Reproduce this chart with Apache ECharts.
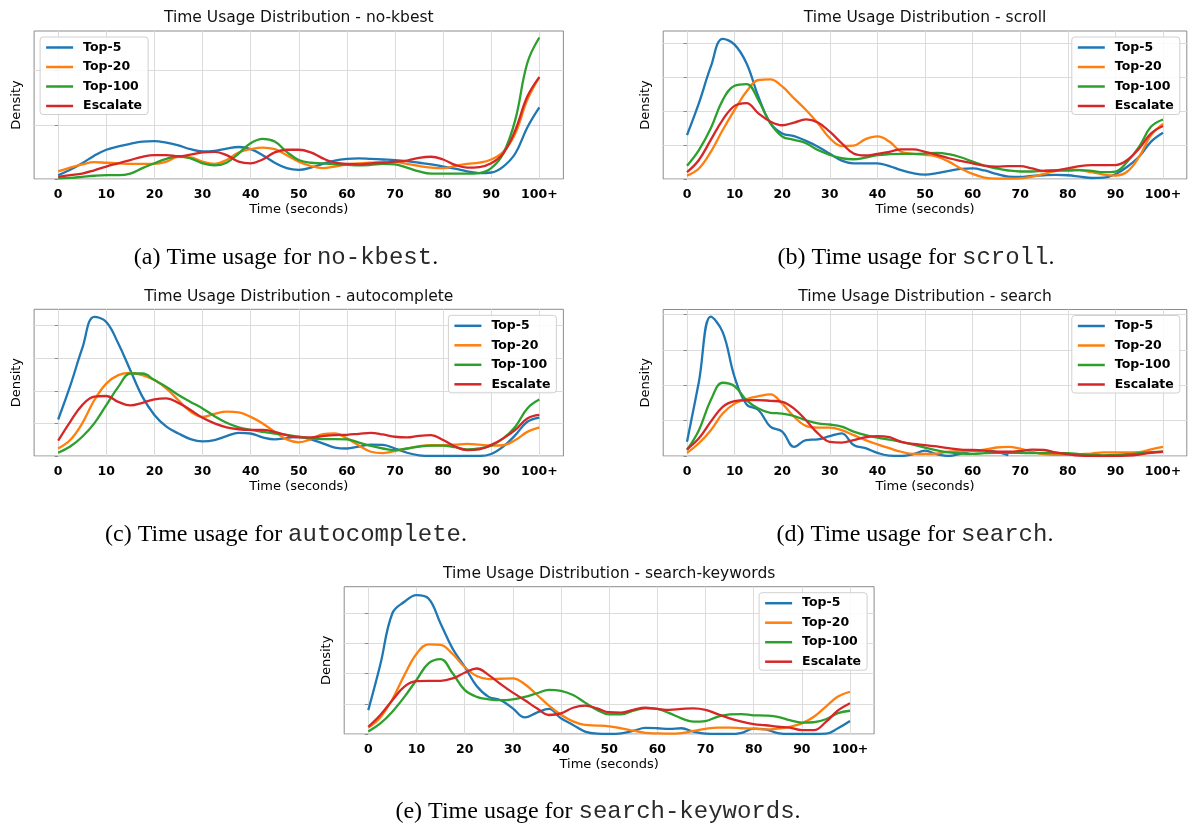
<!DOCTYPE html>
<html><head><meta charset="utf-8">
<script src="https://cdn.jsdelivr.net/npm/echarts@6/dist/echarts.min.js"></script>
<style>html,body{margin:0;padding:0;background:#fff}#c{width:1195px;height:827px}</style>
</head><body><div id="c"></div>
<script>
// ---------- DATA ----------
const TIME_X = [0,2.5,5,7.5,10,12.5,15,17.5,20,22.5,25,27.5,30,32.5,35,37.5,40,42.5,45,47.5,50,52.5,55,57.5,60,62.5,65,67.5,70,72.5,75,77.5,80,82.5,85,87.5,90,92.5,95,97.5,100];
const xTickValues = [0,10,20,30,40,50,60,70,80,90,100];
const xTickLabels = ['0','10','20','30','40','50','60','70','80','90','100+'];
const methods = ['Top-5','Top-20','Top-100','Escalate'];
const panelNames = ['no-kbest','scroll','autocomplete','search','search-keywords'];
const captionLetters = ['(a)','(b)','(c)','(d)','(e)'];

// (a) no-kbest
const noKbestTop5 = [0.07,0.17,0.29,0.43,0.54,0.60,0.65,0.69,0.70,0.67,0.62,0.55,0.51,0.52,0.56,0.59,0.55,0.44,0.30,0.20,0.17,0.21,0.28,0.34,0.37,0.38,0.37,0.36,0.35,0.33,0.30,0.27,0.23,0.19,0.14,0.11,0.12,0.23,0.47,0.95,1.32];
const noKbestTop20 = [0.14,0.21,0.27,0.31,0.30,0.29,0.28,0.28,0.28,0.32,0.41,0.40,0.32,0.28,0.35,0.49,0.55,0.58,0.55,0.44,0.32,0.24,0.20,0.23,0.27,0.29,0.30,0.31,0.31,0.28,0.24,0.21,0.20,0.24,0.28,0.30,0.36,0.50,0.84,1.46,1.88];
const noKbestTop100 = [0.01,0.02,0.04,0.06,0.07,0.07,0.10,0.20,0.29,0.37,0.42,0.38,0.29,0.25,0.30,0.47,0.66,0.74,0.69,0.50,0.35,0.30,0.29,0.27,0.26,0.25,0.26,0.28,0.27,0.21,0.14,0.10,0.10,0.10,0.10,0.11,0.20,0.47,1.09,2.14,2.61];
const noKbestEscalate = [0.04,0.07,0.10,0.16,0.23,0.29,0.35,0.41,0.44,0.44,0.42,0.45,0.49,0.50,0.44,0.32,0.29,0.36,0.49,0.54,0.54,0.49,0.38,0.30,0.28,0.27,0.29,0.30,0.32,0.34,0.39,0.41,0.36,0.26,0.21,0.22,0.29,0.47,0.90,1.52,1.88];

// (b) scroll
const scrollTop5 = [1.29,2.23,3.30,4.12,3.95,3.40,2.42,1.64,1.34,1.26,1.12,0.95,0.74,0.54,0.46,0.46,0.46,0.38,0.26,0.17,0.13,0.17,0.24,0.30,0.31,0.25,0.15,0.07,0.06,0.09,0.11,0.12,0.11,0.07,0.03,0.04,0.14,0.36,0.66,1.10,1.36];
const scrollTop20 = [0.10,0.31,0.80,1.44,2.03,2.57,2.91,2.93,2.72,2.37,2.03,1.64,1.20,0.97,0.98,1.17,1.25,1.10,0.80,0.74,0.71,0.66,0.51,0.31,0.15,0.04,0.01,0.01,0.02,0.07,0.15,0.24,0.28,0.26,0.20,0.13,0.10,0.22,0.66,1.29,1.62];
const scrollTop100 = [0.39,0.85,1.49,2.32,2.74,2.79,2.32,1.64,1.25,1.15,1.05,0.85,0.71,0.61,0.58,0.63,0.70,0.73,0.74,0.74,0.75,0.77,0.73,0.64,0.51,0.39,0.31,0.25,0.22,0.22,0.24,0.25,0.25,0.26,0.24,0.20,0.22,0.51,0.95,1.54,1.75];
const scrollEscalate = [0.20,0.56,1.15,1.74,2.15,2.23,1.93,1.69,1.58,1.66,1.75,1.66,1.39,1.05,0.75,0.69,0.74,0.80,0.87,0.87,0.80,0.71,0.61,0.53,0.46,0.39,0.36,0.38,0.38,0.31,0.24,0.25,0.31,0.38,0.41,0.41,0.41,0.56,0.90,1.34,1.56];

// (c) autocomplete
const autoTop5 = [1.12,2.15,3.30,4.27,4.11,3.45,2.63,1.82,1.26,0.90,0.69,0.52,0.45,0.49,0.61,0.71,0.69,0.57,0.51,0.55,0.59,0.51,0.39,0.26,0.23,0.29,0.35,0.34,0.23,0.10,0.02,0,0,0,0,0,0.06,0.29,0.64,1.05,1.18];
const autoTop20 = [0.23,0.49,1.00,1.71,2.22,2.48,2.55,2.48,2.33,2.07,1.71,1.36,1.20,1.29,1.36,1.34,1.20,1.00,0.74,0.51,0.42,0.51,0.67,0.69,0.54,0.32,0.13,0.09,0.15,0.23,0.30,0.33,0.33,0.35,0.37,0.35,0.32,0.33,0.49,0.74,0.88];
const autoTop100 = [0.10,0.29,0.59,1.00,1.56,2.12,2.53,2.53,2.33,2.12,1.87,1.66,1.46,1.22,1.02,0.88,0.80,0.74,0.69,0.65,0.59,0.54,0.52,0.52,0.51,0.41,0.31,0.23,0.18,0.23,0.29,0.32,0.32,0.27,0.20,0.23,0.32,0.54,0.90,1.46,1.73];
const autoEscalate = [0.47,1.05,1.56,1.82,1.84,1.66,1.55,1.63,1.74,1.77,1.63,1.41,1.17,1.00,0.88,0.82,0.80,0.80,0.74,0.64,0.57,0.57,0.61,0.64,0.65,0.68,0.71,0.66,0.59,0.57,0.62,0.64,0.49,0.29,0.18,0.20,0.34,0.54,0.80,1.15,1.26];

// (d) search
const searchTop5 = [0.40,2.10,3.94,3.50,2.23,1.46,1.30,0.83,0.69,0.26,0.45,0.47,0.56,0.64,0.31,0.22,0.09,0.01,0,0.05,0.15,0.05,0,0.07,0.15,0.16,0.12,0.02,null,null,null,null,null,null,null,null,null,null,null,null,null];
const searchTop20 = [0.09,0.36,0.73,1.20,1.48,1.61,1.69,1.74,1.48,1.11,0.85,0.80,0.80,0.73,0.59,0.45,0.33,0.22,0.12,0.06,0.06,0.07,0.12,0.13,0.15,0.18,0.24,0.26,0.21,0.12,0.05,0.03,0.03,0.05,0.07,0.10,0.10,0.10,0.11,0.19,0.26];
const searchTop100 = [0.17,0.73,1.58,2.07,1.97,1.58,1.34,1.22,1.20,1.13,1.01,0.92,0.89,0.83,0.69,0.59,0.52,0.46,0.40,0.32,0.24,0.16,0.10,0.07,0.06,0.08,0.09,0.09,0.09,0.08,0.08,0.08,0.08,0.05,0.03,0.02,0.03,0.05,0.08,0.11,0.12];
const searchEscalate = [0.19,0.50,0.97,1.39,1.55,1.58,1.58,1.56,1.53,1.34,1.01,0.64,0.40,0.38,0.45,0.53,0.56,0.53,0.40,0.34,0.31,0.27,0.22,0.18,0.17,0.15,0.12,0.12,0.14,0.18,0.17,0.10,0.05,0.01,0,0,0,0.01,0.04,0.09,0.12];

// (e) search-keywords
const keywordsTop5 = [0.79,2.30,4.00,4.38,4.60,4.49,3.66,2.83,2.23,1.59,1.23,1.12,0.85,0.55,0.71,0.83,0.52,0.30,0.08,0.01,0,0.02,0.10,0.20,0.19,0.17,0.19,0.08,0.01,0,0,0.04,0.18,0.15,0.03,0,0,0,0.01,0.19,0.43];
const keywordsTop20 = [0.21,0.55,1.15,1.95,2.65,2.97,2.95,2.65,2.22,1.92,1.82,1.83,1.84,1.65,1.30,0.94,0.64,0.42,0.30,0.28,0.25,0.19,0.11,0.04,0.02,0.01,0.03,0.10,0.17,0.21,0.21,0.19,0.18,0.15,0.18,0.24,0.35,0.57,0.91,1.24,1.40];
const keywordsTop100 = [0.08,0.35,0.74,1.23,1.79,2.34,2.48,2.01,1.46,1.23,1.15,1.12,1.15,1.23,1.35,1.46,1.43,1.29,1.04,0.80,0.65,0.65,0.77,0.86,0.83,0.69,0.52,0.41,0.43,0.57,0.65,0.66,0.62,0.61,0.57,0.46,0.38,0.39,0.49,0.69,0.77];
const keywordsEscalate = [0.24,0.63,1.12,1.57,1.75,1.76,1.76,1.84,2.03,2.17,1.95,1.65,1.37,1.12,0.85,0.63,0.68,0.87,0.94,0.85,0.72,0.71,0.80,0.87,0.83,0.80,0.83,0.85,0.80,0.66,0.52,0.41,0.33,0.29,0.24,0.21,0.13,0.13,0.40,0.78,1.02];

const panelSeries = [
  [noKbestTop5, noKbestTop20, noKbestTop100, noKbestEscalate],
  [scrollTop5, scrollTop20, scrollTop100, scrollEscalate],
  [autoTop5, autoTop20, autoTop100, autoEscalate],
  [searchTop5, searchTop20, searchTop100, searchEscalate],
  [keywordsTop5, keywordsTop20, keywordsTop100, keywordsEscalate]
];
const yMaxes = [2.73, 4.35, 4.50, 4.14, 4.88];
const yTickValues = [[0,1,2],[0,1,2,3,4],[0,1,2,3,4],[0,1,2,3,4],[0,1,2,3,4]];

// ---------- STYLE / LAYOUT ----------
const colors = ['#1f77b4','#ff7f0e','#2ca02c','#d62728'];
const W = 1195;
const grids = [
  {left:34.1, top:31, width:529.3, height:148},
  {left:663.2, top:31, width:523.6, height:148},
  {left:34.1, top:309.3, width:529.3, height:146.7},
  {left:663.2, top:309.5, width:523.6, height:146.5},
  {left:344.2, top:586.7, width:529.9, height:147.3}
];
const legendPos = ['left','right','right','right','right'];
const captionPos = [[286,244.5],[916,244.5],[286,521.5],[915,521.5],[598,798]];
const SANS = 'DejaVu Sans';
const frameColor = '#8c8c8c';
const gridColor = '#dcdcdc';

const option = {
  animation: false,
  backgroundColor: '#fff',
  title: [], grid: [], xAxis: [], yAxis: [], legend: [], series: []
};

grids.forEach((g, i) => {
  option.grid.push(Object.assign({show:true, borderColor:frameColor, borderWidth:1, backgroundColor:'transparent', containLabel:false, outerBoundsMode:'none'}, g));
  option.title.push({
    text: 'Time Usage Distribution - ' + panelNames[i],
    left: g.left + g.width / 2, top: g.top - 20.75, textAlign: 'center', padding: 0,
    textStyle: {fontFamily: SANS, fontSize: 15.5, fontWeight: 'normal', color: '#111'}
  });
  option.title.push({
    text: '{s|' + captionLetters[i] + ' Time usage for }{m|' + panelNames[i] + '}{s|.}',
    left: captionPos[i][0], top: captionPos[i][1], textAlign: 'center', padding: 0,
    textStyle: {fontWeight: 'normal', fontFamily: 'Liberation Serif', fontSize: 24, color: '#000', rich: {
      s: {fontFamily: 'Liberation Serif', fontSize: 24, fontWeight: 'normal', color: '#000', lineHeight: 27},
      m: {fontFamily: 'Liberation Mono', fontSize: 24, fontWeight: 'normal', color: '#2a2a2a', lineHeight: 27}
    }}
  });
  option.xAxis.push({
    type: 'value', gridIndex: i, min: -5, max: 105,
    axisLine: {show: false},
    axisTick: {show: false, customValues: xTickValues},
    axisLabel: {customValues: xTickValues, margin: 9, fontFamily: SANS, fontWeight: 'bold', fontSize: 12.5, color: '#000',
      formatter: v => xTickLabels[xTickValues.indexOf(v)]},
    splitLine: {show: true, lineStyle: {color: gridColor, width: 1}},
    name: 'Time (seconds)', nameLocation: 'middle', nameGap: 24,
    nameTextStyle: {fontFamily: SANS, fontSize: 13, color: '#000'}
  });
  option.yAxis.push({
    type: 'value', gridIndex: i, min: 0, max: yMaxes[i],
    axisLine: {show: false},
    axisTick: {show: true, length: 3.5, customValues: yTickValues[i], lineStyle: {color: frameColor}},
    axisLabel: {show: false},
    splitLine: {show: true, lineStyle: {color: gridColor, width: 1}},
    name: 'Density', nameLocation: 'middle', nameGap: 11,
    nameTextStyle: {fontFamily: SANS, fontSize: 13, color: '#000'}
  });
  const lg = {
    data: methods, orient: 'vertical', top: g.top + 6,
    icon: 'rect', itemWidth: 27, itemHeight: 2.5, itemGap: 6.5,
    padding: [4, 6, 2, 6], backgroundColor: 'rgba(255,255,255,0.85)',
    borderColor: '#d0d0d0', borderWidth: 1, borderRadius: 3, selectedMode: false,
    textStyle: {fontFamily: SANS, fontWeight: 'bold', fontSize: 12.5, color: '#000', padding: [0, 0, 0, 5]}
  };
  if (legendPos[i] === 'left') lg.left = g.left + 6;
  else lg.right = W - (g.left + g.width - 7);
  option.legend.push(lg);
  panelSeries[i].forEach((vals, k) => {
    option.series.push({
      type: 'line', name: methods[k], xAxisIndex: i, yAxisIndex: i,
      data: TIME_X.map((x, j) => [x, vals[j]]),
      smooth: 0.4, symbol: 'none', showSymbol: false,
      lineStyle: {width: 2.3, color: colors[k]}, itemStyle: {color: colors[k]},
      emphasis: {disabled: true}
    });
  });
});

const chart = echarts.init(document.getElementById('c'), null, {renderer: 'canvas'});
chart.setOption(option);
</script></body></html>
